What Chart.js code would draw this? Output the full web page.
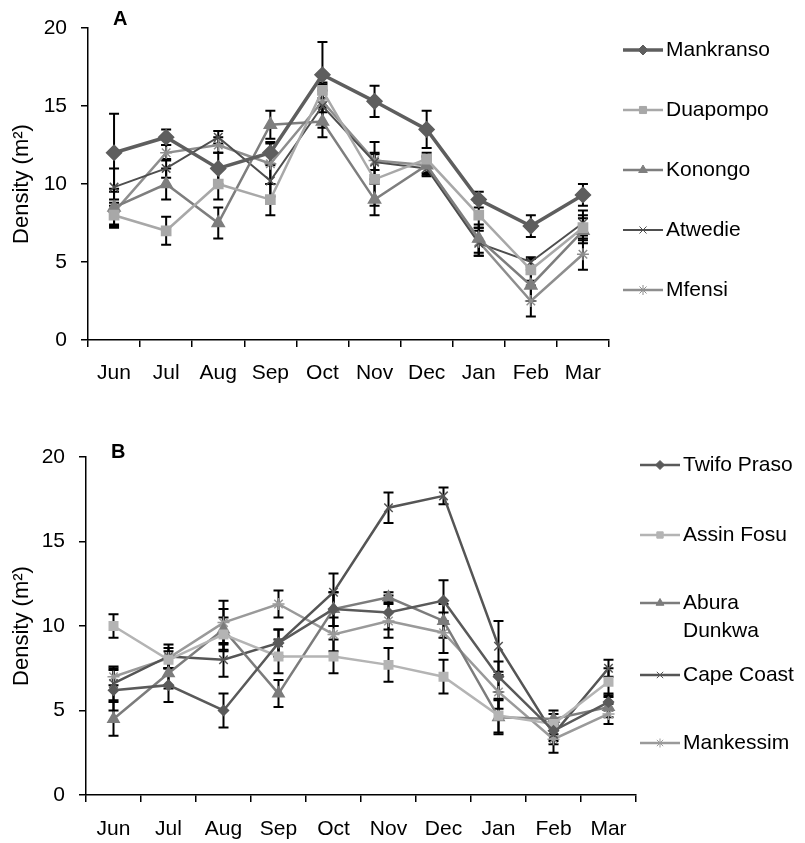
<!DOCTYPE html>
<html>
<head>
<meta charset="utf-8">
<script src="https://cdn.jsdelivr.net/npm/chart.js@4.4.1/dist/chart.umd.min.js"></script>
<style>
  html, body { margin: 0; padding: 0; background: #fff; }
  #wrap { position: relative; width: 805px; height: 843px; }
  canvas { position: absolute; left: 0; }
</style>
</head>
<body>
<div id="wrap">
  <canvas id="chartA" width="805" height="395" style="top:0"></canvas>
  <canvas id="chartB" width="805" height="443" style="top:400px"></canvas>
</div>
<script>
// ---- data ----
const MONTHS = ["Jun", "Jul", "Aug", "Sep", "Oct", "Nov", "Dec", "Jan", "Feb", "Mar"];
const Y_TICKS = [0, 5, 10, 15, 20];

// panel A
const A_NAMES = ["Mankranso", "Duapompo", "Konongo", "Atwedie", "Mfensi"];
const mankranso     = [12.0, 13.0, 11.0, 12.0, 17.0, 15.3, 13.5, 9.0, 7.3, 9.3];
const mankransoErr  = [2.5, 0.5, 1.0, 0.7, 2.1, 1.0, 1.2, 0.5, 0.7, 0.7];
const duapompo      = [8.0, 7.0, 10.0, 9.0, 16.0, 10.3, 11.6, 8.0, 4.5, 7.2];
const duapompoErr   = [0.8, 0.9, 1.0, 1.0, 0.5, 1.7, 0.4, 0.8, 0.7, 0.8];
const konongo       = [8.5, 10.0, 7.5, 13.8, 14.0, 9.0, 11.2, 6.5, 3.5, 7.0];
const konongoErr    = [1.2, 1.0, 1.0, 0.9, 1.0, 1.0, 0.5, 0.9, 1.0, 0.8];
const atwedie       = [9.8, 11.0, 13.0, 10.2, 15.0, 11.4, 11.0, 6.2, 5.0, 7.5];
const atwedieErr    = [1.2, 0.6, 0.4, 1.0, 1.4, 0.5, 0.5, 0.8, 0.3, 0.8];
const mfensi        = [8.2, 12.0, 12.5, 11.3, 15.3, 11.5, 11.2, 6.3, 2.5, 5.5];
const mfensiErr     = [0.8, 0.5, 0.5, 1.3, 0.7, 1.2, 0.6, 0.9, 1.0, 1.0];

// panel B
const B_NAMES = ["Twifo Praso", "Assin Fosu", "Abura Dunkwa", "Cape Coast", "Mankessim"];
const twifo         = [6.2, 6.5, 5.0, 9.0, 11.0, 10.8, 11.5, 7.0, 3.8, 5.5];
const twifoErr      = [1.2, 1.0, 1.0, 0.8, 1.0, 1.0, 1.2, 0.9, 0.6, 0.5];
const assin         = [10.0, 8.0, 9.5, 8.2, 8.2, 7.7, 7.0, 4.7, 4.2, 6.7];
const assinErr      = [0.7, 0.5, 1.0, 1.0, 1.0, 1.0, 1.0, 1.0, 0.6, 0.8];
const abura         = [4.5, 7.2, 9.8, 6.0, 11.0, 11.7, 10.3, 4.6, 4.5, 5.2];
const aburaErr      = [1.0, 0.9, 1.2, 0.8, 1.0, 0.3, 1.0, 1.0, 0.5, 0.6];
const capeCoast     = [6.6, 8.2, 8.0, 9.0, 12.0, 17.0, 17.7, 8.8, 3.6, 7.5];
const capeCoastErr  = [1.0, 0.7, 1.0, 0.8, 1.1, 0.9, 0.5, 1.5, 0.6, 0.5];
const mankessim     = [7.0, 8.1, 10.2, 11.3, 9.5, 10.3, 9.6, 6.1, 3.3, 4.8];
const mankessimErr  = [0.5, 0.6, 1.3, 0.8, 1.0, 1.0, 1.2, 1.0, 0.8, 0.6];

const FONT = "'Liberation Sans', Arial, Helvetica, sans-serif";

// error bars, drawn under the lines
const errorBars = {
  id: "errorBars",
  beforeDatasetsDraw(chart) {
    const { ctx } = chart;
    const y = chart.scales.y;
    ctx.save();
    ctx.strokeStyle = "#000";
    ctx.lineWidth = 2;
    chart.data.datasets.forEach((ds, i) => {
      const meta = chart.getDatasetMeta(i);
      ds.data.forEach((v, j) => {
        const e = ds.errors[j];
        const x = meta.data[j].x;
        const y1 = y.getPixelForValue(v + e), y2 = y.getPixelForValue(v - e);
        ctx.beginPath();
        ctx.moveTo(x, y1); ctx.lineTo(x, y2);
        ctx.moveTo(x - 5, y1); ctx.lineTo(x + 5, y1);
        ctx.moveTo(x - 5, y2); ctx.lineTo(x + 5, y2);
        ctx.stroke();
      });
    });
    ctx.restore();
  }
};

// legend on the right + panel letter
const sideLegend = {
  id: "sideLegend",
  afterDraw(chart, args, opts) {
    const { ctx } = chart;
    ctx.save();
    ctx.font = `bold 20px ${FONT}`;
    ctx.fillStyle = "#000";
    ctx.textBaseline = "alphabetic";
    ctx.fillText(opts.letter, chart.chartArea.left + 25, chart.chartArea.top + opts.letterDy);

    ctx.font = `21px ${FONT}`;
    ctx.textBaseline = "middle";
    chart.data.datasets.forEach((ds, i) => {
      const yy = opts.ys[i];
      ctx.strokeStyle = ds.borderColor;
      ctx.fillStyle = ds.backgroundColor;
      ctx.lineWidth = ds.borderWidth;
      ctx.beginPath();
      ctx.moveTo(opts.x, yy); ctx.lineTo(opts.x + 40, yy);
      ctx.stroke();
      ctx.lineWidth = 1;
      Chart.helpers.drawPoint(ctx, {
        pointStyle: ds.pointStyle, radius: opts.markR, rotation: 0, borderWidth: 1
      }, opts.x + 20, yy);
      ctx.fillStyle = "#000";
      const tx = opts.x + 43;
      if (tx + ctx.measureText(ds.label).width > chart.width) {
        ds.label.split(" ").forEach((w, k) => ctx.fillText(w, tx, yy + k * 28));
      } else {
        ctx.fillText(ds.label, tx, yy);
      }
    });
    ctx.restore();
  }
};

function series(label, data, errors, color, style, radius, width) {
  return {
    label, data, errors,
    borderColor: color, backgroundColor: color,
    pointBackgroundColor: color, pointBorderColor: color,
    pointStyle: style, pointRadius: radius, pointHoverRadius: radius,
    pointBorderWidth: 1.5,
    borderWidth: width, tension: 0
  };
}

function makeChart(id, datasets, geo) {
  return new Chart(document.getElementById(id), {
    type: "line",
    data: { labels: MONTHS, datasets },
    options: {
      responsive: false,
      animation: false,
      events: [],
      layout: { padding: { left: 0, right: 805 - geo.right, top: geo.top, bottom: 0 } },
      plugins: {
        legend: { display: false },
        tooltip: { enabled: false },
        sideLegend: geo.legend
      },
      scales: {
        x: {
          offset: true,
          grid: { offset: true, drawOnChartArea: false, drawTicks: true, tickLength: 7, color: "#000", lineWidth: 1.5 },
          border: { color: "#000", width: 1.5 },
          ticks: { color: "#000", font: { family: FONT, size: 21 }, padding: geo.xPad, maxRotation: 0, autoSkip: false },
          afterFit(s) { s.height = geo.xHeight; }
        },
        y: {
          min: 0, max: 20,
          afterBuildTicks(s) { s.ticks = Y_TICKS.map(v => ({ value: v })); },
          grid: { drawOnChartArea: false, drawTicks: true, tickLength: 7, color: "#000", lineWidth: 1.5 },
          border: { color: "#000", width: 1.5 },
          ticks: { color: "#000", font: { family: FONT, size: 21 }, padding: 14 },
          title: { display: true, text: "Density (m²)", color: "#000", font: { family: FONT, size: 22 }, padding: { top: 9, bottom: 0 } },
          afterFit(s) { s.width = geo.left; }
        }
      }
    },
    plugins: [errorBars, sideLegend]
  });
}

makeChart("chartA", [
  series(A_NAMES[0], mankranso, mankransoErr, "#5e5e5e", "rectRot", 7.5, 3.5),
  series(A_NAMES[1], duapompo, duapompoErr, "#a8a8a8", "rect", 6.5, 2.5),
  series(A_NAMES[2], konongo, konongoErr, "#7e7e7e", "triangle", 7, 2.5),
  series(A_NAMES[3], atwedie, atwedieErr, "#4e4e4e", "crossRot", 6, 2),
  series(A_NAMES[4], mfensi, mfensiErr, "#8e8e8e", "star", 6, 2.5)
], {
  left: 88, right: 609, top: 28, xHeight: 55, xPad: 14,
  legend: { x: 623, ys: [50, 110, 170, 230, 290], letter: "A", letterDy: -3, markR: 5 }
});

makeChart("chartB", [
  series(B_NAMES[0], twifo, twifoErr, "#5a5a5a", "rectRot", 5, 2.5),
  series(B_NAMES[1], assin, assinErr, "#b4b4b4", "rect", 6, 2.5),
  series(B_NAMES[2], abura, aburaErr, "#7c7c7c", "triangle", 6.5, 2.5),
  series(B_NAMES[3], capeCoast, capeCoastErr, "#555555", "crossRot", 6, 2.5),
  series(B_NAMES[4], mankessim, mankessimErr, "#9a9a9a", "star", 6, 2.5)
], {
  left: 86, right: 636, top: 57, xHeight: 48, xPad: 15,
  legend: { x: 640, ys: [65, 135, 203, 275, 343], letter: "B", letterDy: 1, markR: 4.5 }
});
</script>
</body>
</html>
